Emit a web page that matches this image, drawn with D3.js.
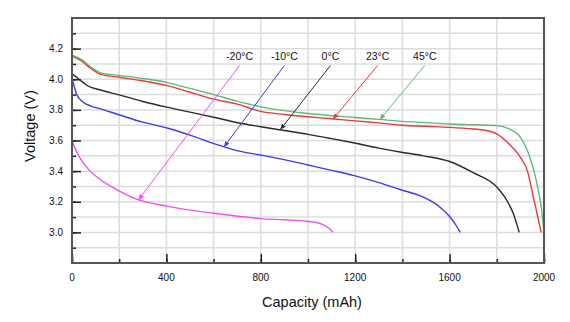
<!DOCTYPE html>
<html><head><meta charset="utf-8">
<script src="https://cdn.jsdelivr.net/npm/d3@7/dist/d3.min.js"></script>
<style>body{margin:0;background:#fff}svg{display:block}</style>
</head><body>
<svg id="c" width="570" height="322"></svg>
<script>
// ---- data ----
const xTicks = [0, 400, 800, 1200, 1600, 2000];
const yTicks = [3.0, 3.2, 3.4, 3.6, 3.8, 4.0, 4.2];

const cap45 = [0, 40, 80, 125, 200, 300, 400, 500, 600, 700, 800, 900, 1000, 1100, 1200, 1300, 1400, 1500, 1600, 1700, 1800, 1850, 1900, 1940, 1970, 1990, 2000];
const v45   = [4.158, 4.13, 4.08, 4.04, 4.025, 4.005, 3.98, 3.94, 3.90, 3.857, 3.82, 3.795, 3.776, 3.762, 3.75, 3.738, 3.725, 3.717, 3.708, 3.703, 3.697, 3.677, 3.62, 3.49, 3.32, 3.145, 3.0];

const cap23 = [0, 40, 80, 125, 200, 300, 400, 500, 600, 700, 800, 900, 1000, 1100, 1200, 1300, 1400, 1500, 1600, 1700, 1750, 1800, 1850, 1900, 1930, 1955, 1988];
const v23   = [4.151, 4.12, 4.07, 4.03, 4.013, 3.99, 3.96, 3.915, 3.87, 3.838, 3.79, 3.77, 3.755, 3.742, 3.728, 3.715, 3.70, 3.693, 3.686, 3.675, 3.667, 3.643, 3.58, 3.49, 3.40, 3.23, 3.0];

const cap0 = [0, 30, 68, 120, 195, 300, 407, 500, 605, 703, 800, 900, 1000, 1100, 1192, 1300, 1390, 1489, 1600, 1700, 1800, 1842, 1870, 1895];
const v0   = [4.036, 4.0, 3.956, 3.93, 3.90, 3.855, 3.816, 3.785, 3.75, 3.716, 3.69, 3.665, 3.64, 3.612, 3.585, 3.55, 3.525, 3.50, 3.463, 3.39, 3.296, 3.21, 3.123, 3.0];

const capM10 = [0, 10, 20, 40, 80, 124, 195, 300, 407, 500, 605, 703, 800, 900, 1000, 1100, 1192, 1300, 1390, 1489, 1558, 1602, 1630, 1645];
const vM10   = [4.006, 3.95, 3.90, 3.86, 3.825, 3.805, 3.77, 3.72, 3.68, 3.635, 3.578, 3.532, 3.505, 3.475, 3.44, 3.405, 3.372, 3.325, 3.28, 3.23, 3.166, 3.10, 3.04, 3.0];

const capM20 = [0, 10, 25, 68, 124, 195, 280, 407, 500, 605, 703, 800, 900, 994, 1051, 1086, 1107];
const vM20   = [3.60, 3.56, 3.51, 3.415, 3.34, 3.275, 3.214, 3.17, 3.145, 3.125, 3.105, 3.09, 3.082, 3.073, 3.058, 3.03, 3.0];

const seriesNames  = ["-20°C", "-10°C", "0°C", "23°C", "45°C"];
const seriesColors = ["#ee4fee", "#3a3af5", "#2a2a2a", "#e8383a", "#5cb978"];
const labelCap   = [710, 900, 1095, 1295, 1495];
const targetCap  = [283, 645, 884, 1107, 1305];
const targetVolt = [3.214, 3.56, 3.673, 3.741, 3.738];

// ---- chart ----
const svg = d3.select("#c");
const L = 72, R = 544, T = 18, B = 263;
const x = d3.scaleLinear().domain([0, 2000]).range([L, R]);
const y = d3.scaleLinear().domain([2.8, 4.4]).range([B, T]);

// grid
const g = svg.append("g");
g.selectAll("line.h").data(d3.range(29, 44).map(d => d / 10)).join("line")
  .attr("x1", L).attr("x2", R).attr("y1", d => y(d)).attr("y2", d => y(d))
  .attr("stroke", "#dcdcdc").attr("stroke-width", 1.5);
g.selectAll("line.v").data(d3.range(200, 2000, 200)).join("line")
  .attr("y1", T).attr("y2", B).attr("x1", d => x(d)).attr("x2", d => x(d))
  .attr("stroke", "#dcdcdc").attr("stroke-width", 1.5);

// axes (inward ticks)
const yMinor = d3.range(29, 44).map(d => d / 10);
svg.append("g").attr("transform", `translate(${L},0)`)
  .call(d3.axisRight(y).tickValues(yMinor).tickSize(4).tickFormat(""))
  .call(a => a.select(".domain").remove())
  .selectAll("line").attr("stroke", "#222").attr("stroke-width", 1.5);
svg.append("g").attr("transform", `translate(${L},0)`)
  .call(d3.axisRight(y).tickValues(yTicks).tickSize(9).tickFormat(""))
  .call(a => a.select(".domain").remove())
  .selectAll("line").attr("stroke", "#222").attr("stroke-width", 1.5);
svg.append("g").attr("transform", `translate(0,${B})`)
  .call(d3.axisTop(x).tickValues(d3.range(0, 2001, 200)).tickSize(4).tickFormat(""))
  .call(a => a.select(".domain").remove())
  .selectAll("line").attr("stroke", "#222").attr("stroke-width", 1.5);
svg.append("g").attr("transform", `translate(0,${B})`)
  .call(d3.axisTop(x).tickValues(xTicks).tickSize(9).tickFormat(""))
  .call(a => a.select(".domain").remove())
  .selectAll("line").attr("stroke", "#222").attr("stroke-width", 1.5);

// tick labels
svg.append("g").selectAll("text").data(yTicks).join("text")
  .attr("x", L - 9).attr("y", d => y(d)).attr("dy", "0.35em")
  .attr("text-anchor", "end").attr("font-family", "Liberation Sans, Arial, sans-serif")
  .attr("font-size", 10).attr("fill", "#111").text(d => d.toFixed(1));
svg.append("g").selectAll("text").data(xTicks).join("text")
  .attr("x", d => x(d)).attr("y", 277).attr("dy", "0.35em")
  .attr("text-anchor", "middle").attr("font-family", "Liberation Sans, Arial, sans-serif")
  .attr("font-size", 10).attr("fill", "#111").text(d => d);

// curves
const allCaps = [capM20, capM10, cap0, cap23, cap45];
const allVolts = [vM20, vM10, v0, v23, v45];
const line = d3.line().x(d => x(d[0])).y(d => y(d[1])).curve(d3.curveMonotoneX);
allCaps.forEach((cs, i) => {
  const pts = cs.map((c, j) => [c, allVolts[i][j]]);
  svg.append("path").attr("d", line(pts)).attr("fill", "none")
    .attr("stroke", seriesColors[i]).attr("stroke-width", 1.4);
});

// frame
svg.append("rect").attr("x", L).attr("y", T).attr("width", R - L).attr("height", B - T)
  .attr("fill", "none").attr("stroke", "#555").attr("stroke-width", 2);

// arrow markers
const defs = svg.append("defs");
seriesColors.forEach((c, i) => {
  defs.append("marker").attr("id", "m" + i).attr("viewBox", "0 0 10 10")
    .attr("refX", 9).attr("refY", 5).attr("markerWidth", 6).attr("markerHeight", 6)
    .attr("markerUnits", "userSpaceOnUse").attr("orient", "auto")
    .append("path").attr("d", "M0,1 L10,5 L0,9 Z").attr("fill", c);
});

// annotations
seriesNames.forEach((n, i) => {
  svg.append("text").attr("x", x(labelCap[i])).attr("y", y(4.147)).attr("dy", "0.35em")
    .attr("text-anchor", "middle").attr("font-family", "Liberation Sans, Arial, sans-serif")
    .attr("font-size", 10.5).attr("fill", "#111").text(n);
  svg.append("line").attr("x1", x(labelCap[i])).attr("y1", y(4.09))
    .attr("x2", x(targetCap[i])).attr("y2", y(targetVolt[i]))
    .attr("stroke", seriesColors[i]).attr("stroke-width", 1)
    .attr("marker-end", `url(#m${i})`);
});

// axis titles
svg.append("text").attr("x", 312).attr("y", 307).attr("text-anchor", "middle")
  .attr("font-family", "Liberation Sans, Arial, sans-serif").attr("font-size", 14.5)
  .attr("fill", "#111").text("Capacity (mAh)");
svg.append("text").attr("transform", "translate(35,126) rotate(-90)").attr("text-anchor", "middle")
  .attr("font-family", "Liberation Sans, Arial, sans-serif").attr("font-size", 14.5)
  .attr("fill", "#111").text("Voltage (V)");
</script>
</body></html>
